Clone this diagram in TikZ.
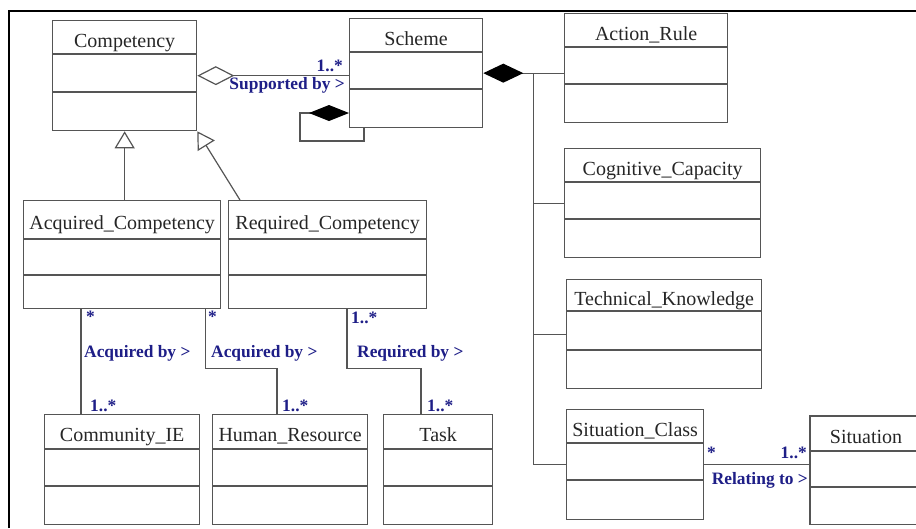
\documentclass[tikz,border=0pt]{standalone}
\usepackage{fontspec}
\setmainfont{Liberation Serif}
\usetikzlibrary{arrows.meta}

\definecolor{boxgray}{RGB}{85,85,85}
\definecolor{labelblue}{RGB}{30,30,135}

\begin{document}
\begin{tikzpicture}[x=1pt, y=-1pt, % <--- 一个单位 = 1pt，y 轴向下，方便照着像素摆放
    classbox/.style={draw=boxgray, line width=1.3pt, anchor=north west, inner sep=0pt},
    classname/.style={font=\fontsize{20}{22}\selectfont, text=black!85, anchor=base},
    compline/.style={draw=boxgray, line width=1.3pt},
    assoc/.style={draw=boxgray, line width=1.2pt},
    mult/.style={font=\fontsize{17.4}{19}\selectfont\bfseries, text=labelblue, inner sep=0pt}]

    % --- 定义宏 ---
    % \umlclass{名字}{左上角 x}{左上角 y}{宽}{高}{第一条分隔线}{第二条分隔线}{类名}
    % 分隔线的位置是从顶边往下量的距离
    \newcommand{\umlclass}[8]{%
        \node[classbox, minimum width=#4pt, minimum height=#5pt] (#1) at (#2,#3) {};
        \draw[compline] ([yshift=-#6pt]#1.north west) -- ([yshift=-#6pt]#1.north east);
        \draw[compline] ([yshift=-#7pt]#1.north west) -- ([yshift=-#7pt]#1.north east);
        % 类名的基线放在第一格中线往下 10pt
        \node[classname] (#1-name) at ([yshift=-#6pt/2-10pt]#1.north) {#8};
    }

    % --- 0. 画布大小和外框 ---
    \useasboundingbox (0,0) rectangle (916,528);
    % 左边和上边的粗黑线
    \draw[line width=2.5pt] (9,528) -- (9,11) -- (916,11);

    % --- 1. 上面一排的类 ---
    \umlclass{comp}{52}{20}{144}{110}{34}{72}{Competency}
    \umlclass{scheme}{349}{18}{133}{109}{34}{71}{Scheme}

    % --- 2. 右边一列的类 ---
    \umlclass{action}{564}{13}{163}{109}{34}{71}{Action\_Rule}
    \umlclass{cog}{564}{148}{196}{109}{34}{71}{Cognitive\_Capacity}
    \umlclass{tech}{566}{279}{195}{109}{32}{71}{Technical\_Knowledge}
    \umlclass{sitc}{566}{409}{137}{110}{34}{71}{Situation\_Class}
    % Situation 的右边被裁掉了：只画左、上、下三条边，一直画到画布右边
    \node[classbox, draw=none, minimum width=106pt, minimum height=107pt] (sit) at (810,416) {};
    \draw[compline] (sit.north east) -- (sit.north west) -- (sit.south west) -- (sit.south east);
    \draw[compline] ([yshift=-35pt]sit.north west) -- ([yshift=-35pt]sit.north east);
    \draw[compline] ([yshift=-71pt]sit.north west) -- ([yshift=-71pt]sit.north east);
    \node[classname] (sit-name) at (866,443.5) {Situation};

    % --- 3. 中间和下面的类 ---
    \umlclass{acq}{23}{200}{197}{108}{39}{75}{Acquired\_Competency}
    \umlclass{req}{228}{200}{198}{108}{39}{75}{Required\_Competency}
    \umlclass{cie}{44}{414}{155}{110}{35}{72}{Community\_IE}
    \umlclass{hr}{212}{414}{155}{110}{35}{72}{Human\_Resource}
    \umlclass{task}{383}{414}{109}{110}{35}{72}{Task}

    % --- 4. 聚合：Competency 空心菱形 -> Scheme ---
    \draw[assoc, {Diamond[open, length=37pt, width=19pt]}-] (comp.east) -- (comp.east -| scheme.west);
    \node[mult, anchor=east] (mult-sch) at (343,66) {1..*};
    \node[mult, anchor=east] (lab-sup) at (345,85) {Supported by >};

    % (a) Scheme 自己的组合，实心菱形，绕一圈回到底边
    \draw[assoc, {Diamond[length=40pt, width=16pt, color=black]}-] ([yshift=-95pt]scheme.north west)
        -| ++(-49,28) -| ([xshift=15pt]scheme.south west);

    % --- 5. 组合：Scheme 实心菱形 -> 右边四个类 ---
    \draw[assoc, {Diamond[length=40pt, width=19pt, color=black]}-] (scheme.east) -- (scheme.east -| action.west);
    % 竖着的主干线
    \path (scheme.east) ++(50,0) coordinate (trunk);
    \draw[assoc] (trunk) |- (cog.west);
    \draw[assoc] (trunk) |- (tech.west);
    \draw[assoc] (trunk) |- (sitc.west);

    % (a) Situation_Class -- Situation
    \draw[assoc] (sitc.east) -- (sitc.east -| sit.west);
    \node[mult, anchor=west] (mult-sc) at (707,453) {*};
    \node[mult, anchor=east] (mult-si) at (807,453) {1..*};
    \node[mult, anchor=east] (lab-rel) at (808,480) {Relating to >};

    % --- 6. 继承：空心三角形指向 Competency ---
    \draw[assoc, -{Triangle[open, length=17pt, width=20pt]}] (comp.south |- acq.north) -- (comp.south);
    \draw[assoc, -{Triangle[open, length=17pt, width=20pt]}] ([xshift=12pt]req.north west) -- (comp.south east);

    % --- 7. 下面的三条关联 ---
    % (a) Acquired_Competency -- Community_IE，直线往下
    \draw[assoc] ([xshift=58pt]acq.south west) coordinate (acq-a) -- (acq-a |- cie.north);
    \node[mult, anchor=west] (mult-a1) at (86,317) {*};
    \node[mult, anchor=west] (lab-acq1) at (84,353) {Acquired by >};
    \node[mult, anchor=west] (mult-a2) at (90,406) {1..*};

    % (b) Acquired_Competency -- Human_Resource，折一下
    \draw[assoc] ([xshift=-16pt]acq.south east) -- ++(0,59) -| ([xshift=65pt]hr.north west);
    \node[mult, anchor=west] (mult-a3) at (208,317) {*};
    \node[mult, anchor=west] (lab-acq2) at (211,353) {Acquired by >};
    \node[mult, anchor=west] (mult-a4) at (282,406) {1..*};

    % (c) Required_Competency -- Task
    \draw[assoc] ([xshift=119pt]req.south west) -- ++(0,59) -| ([xshift=38pt]task.north west);
    \node[mult, anchor=west] (mult-r1) at (351,318) {1..*};
    \node[mult, anchor=west] (lab-req) at (357,353) {Required by >};
    \node[mult, anchor=west] (mult-r2) at (427,406) {1..*};

\end{tikzpicture}
\end{document}
